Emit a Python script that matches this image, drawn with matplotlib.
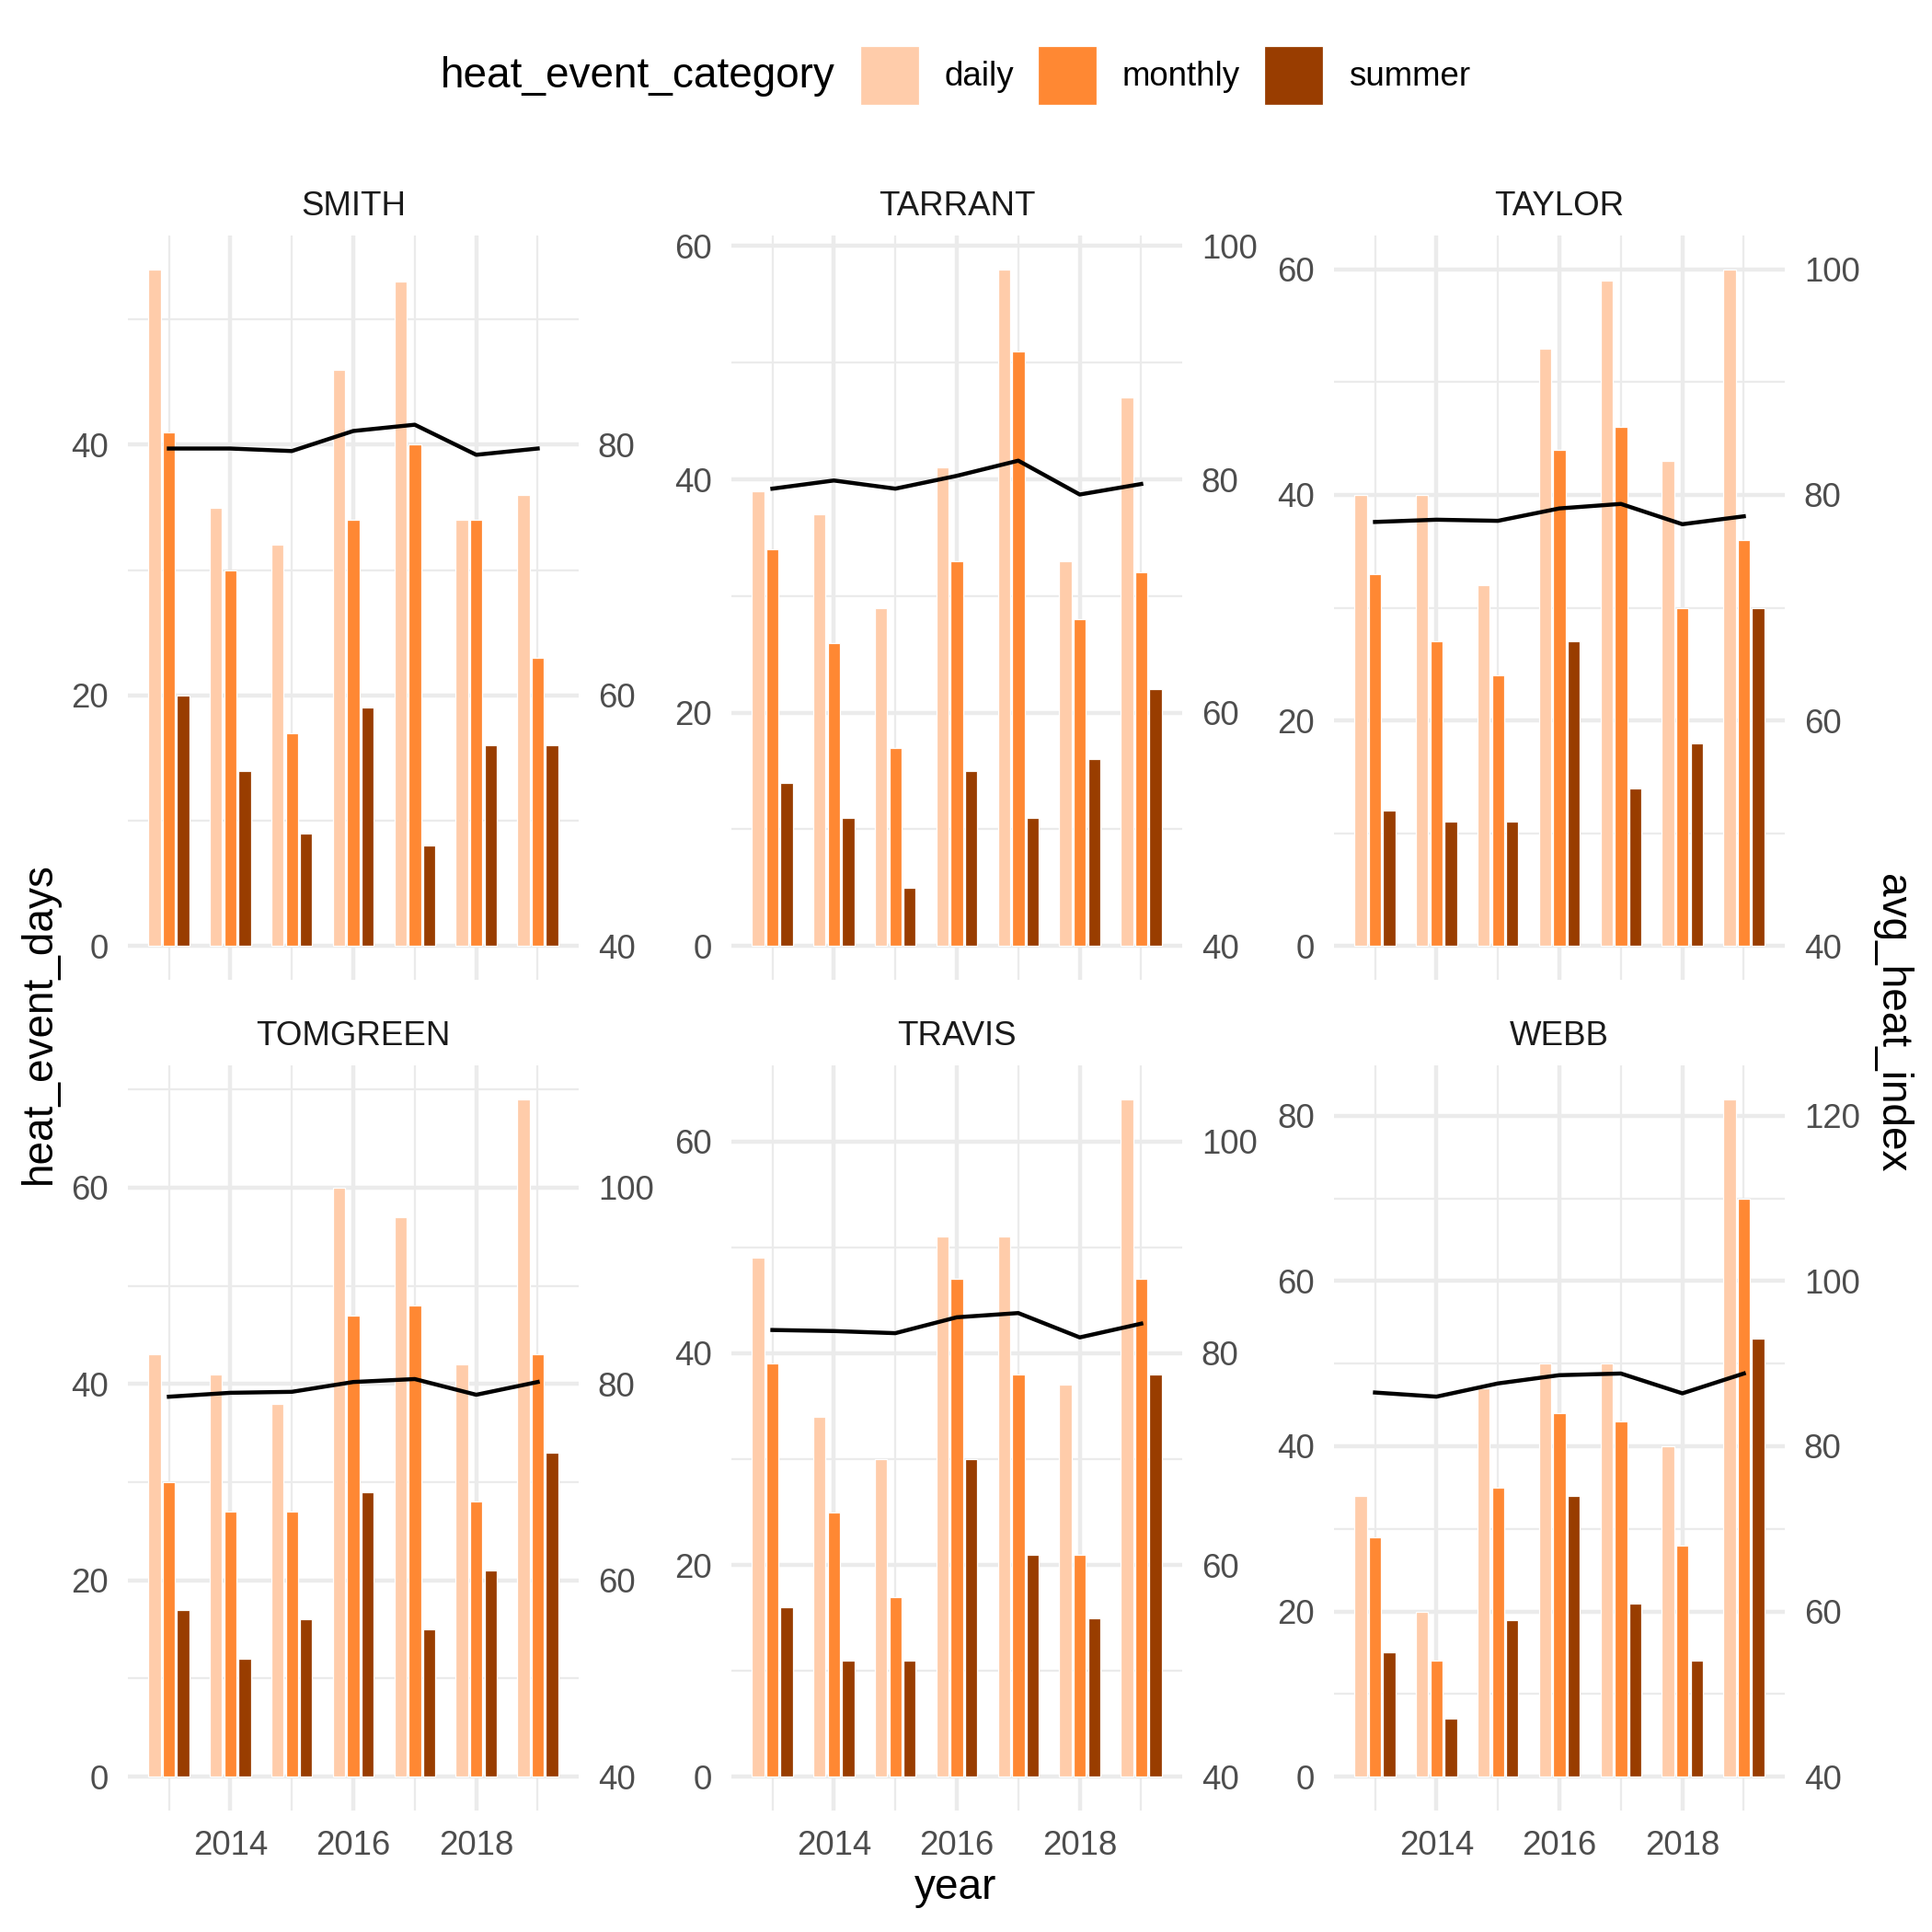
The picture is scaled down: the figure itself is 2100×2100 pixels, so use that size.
import numpy as np
import matplotlib
matplotlib.use("Agg")
import matplotlib.pyplot as plt
from matplotlib.patches import Patch
from matplotlib.ticker import MultipleLocator, FixedLocator

plt.rcParams['font.family'] = ['Liberation Sans', 'DejaVu Sans']

# data
counties = ["SMITH", "TARRANT", "TAYLOR", "TOMGREEN", "TRAVIS", "WEBB"]
years = [2013, 2014, 2015, 2016, 2017, 2018, 2019]
categories = ["daily", "monthly", "summer"]

daily_days = [
    [54, 35, 32, 46, 53, 34, 36],
    [39, 37, 29, 41, 58, 33, 47],
    [40, 40, 32, 53, 59, 43, 60],
    [43, 41, 38, 60, 57, 42, 69],
    [49, 34, 30, 51, 51, 37, 64],
    [34, 20, 47, 50, 50, 40, 82],
]
monthly_days = [
    [41, 30, 17, 34, 40, 34, 23],
    [34, 26, 17, 33, 51, 28, 32],
    [33, 27, 24, 44, 46, 30, 36],
    [30, 27, 27, 47, 48, 28, 43],
    [39, 25, 17, 47, 38, 21, 47],
    [29, 14, 35, 44, 43, 28, 70],
]
summer_days = [
    [20, 14, 9, 19, 8, 16, 16],
    [14, 11, 5, 15, 11, 16, 22],
    [12, 11, 11, 27, 14, 18, 30],
    [17, 12, 16, 29, 15, 21, 33],
    [16, 11, 11, 30, 21, 15, 38],
    [15, 7, 19, 34, 21, 14, 53],
]
avg_heat_index = [
    [79.7, 79.7, 79.5, 81.1, 81.6, 79.2, 79.7],
    [79.2, 79.9, 79.2, 80.3, 81.6, 78.7, 79.6],
    [77.6, 77.8, 77.7, 78.8, 79.2, 77.4, 78.1],
    [78.7, 79.1, 79.2, 80.2, 80.5, 78.9, 80.2],
    [82.2, 82.1, 81.9, 83.4, 83.8, 81.5, 82.8],
    [86.5, 86.0, 87.6, 88.6, 88.8, 86.4, 88.8],
]

SEC_SHIFT = 40  # sec axis: avg_heat_index = days + 40
colors = ["#FFCCAA", "#FF8833", "#993D00"]
GRID = "#EBEBEB"
TXT = "#4D4D4D"

W = 2100.0
fig = plt.figure(figsize=(7, 7), dpi=300)

col_x = [139, 795, 1450]
row_y = [(256, 1065), (1158, 1968)]
pw = 490

x = np.array(years, dtype=float)
dodge = 0.7 / 3
bw = 0.2
xlo = x.min() - dodge - bw / 2
xhi = x.max() + dodge + bw / 2
xpad = 0.05 * (xhi - xlo)

for i, name in enumerate(counties):
    r, c = divmod(i, 3)
    top, bot = row_y[r]
    ax = fig.add_axes([col_x[c] / W, 1 - bot / W, pw / W, (bot - top) / W])
    series = [daily_days[i], monthly_days[i], summer_days[i]]
    for k, (vals, col) in enumerate(zip(series, colors)):
        ax.bar(x + (k - 1) * dodge, vals, width=bw, color=col,
               edgecolor="white", linewidth=0.3, zorder=2)

    line = np.array(avg_heat_index[i]) - SEC_SHIFT
    ymax = max(max(max(s) for s in series), line.max())
    ymin = 0
    ypad = 0.05 * (ymax - ymin)
    ax.set_ylim(ymin - ypad, ymax + ypad)
    ax.set_xlim(xlo - xpad, xhi + xpad)

    ax.yaxis.set_major_locator(MultipleLocator(20))
    ax.yaxis.set_minor_locator(MultipleLocator(10))
    ax.xaxis.set_major_locator(FixedLocator([2014, 2016, 2018]))
    ax.xaxis.set_minor_locator(FixedLocator([2013, 2015, 2017, 2019]))
    ax.grid(which="major", color=GRID, linewidth=1.06, zorder=0)
    ax.grid(which="minor", color=GRID, linewidth=0.53, zorder=0)
    ax.set_axisbelow(True)
    for s in ax.spines.values():
        s.set_visible(False)
    ax.tick_params(which="both", length=0, pad=5, labelsize=8.8, labelcolor=TXT)
    if r == 0:
        ax.tick_params(axis="x", labelbottom=False)
    ax.set_title(name, fontsize=8.8, color="#1A1A1A", pad=5.3)

    tw = ax.twinx()
    lo, hi = ax.get_ylim()
    tw.set_ylim(lo + SEC_SHIFT, hi + SEC_SHIFT)
    tw.plot(x, avg_heat_index[i], color="black", linewidth=1.06, zorder=3)
    tw.yaxis.set_major_locator(MultipleLocator(20))
    tw.tick_params(length=0, pad=5, labelsize=8.8, labelcolor=TXT)
    for s in tw.spines.values():
        s.set_visible(False)

fig.text(43 / W, 1 - 1112 / W, "heat_event_days", rotation=90,
         ha="center", va="center", fontsize=11)
fig.text(2056 / W, 1 - 1112 / W, "avg_heat_index", rotation=270,
         ha="center", va="center", fontsize=11)
fig.text(1039 / W, 1 - 2052 / W, "year", ha="center", va="center", fontsize=11)

# legend on top, title to the left of keys
fig.text(908 / W, 1 - 83 / W, "heat_event_category", ha="right", va="center",
         fontsize=11)
handles = [Patch(facecolor=cl, edgecolor="white", linewidth=0.3) for cl in colors]
fig.legend(handles, categories, loc="center left",
           bbox_to_anchor=(935 / W, 1 - 82 / W), ncol=3, frameon=False,
           fontsize=8.8, handlelength=1.745, handleheight=2.31,
           handletextpad=0.76, columnspacing=0.7, borderpad=0,
           borderaxespad=0)

fig.savefig("out.png", dpi=300, facecolor="white")
